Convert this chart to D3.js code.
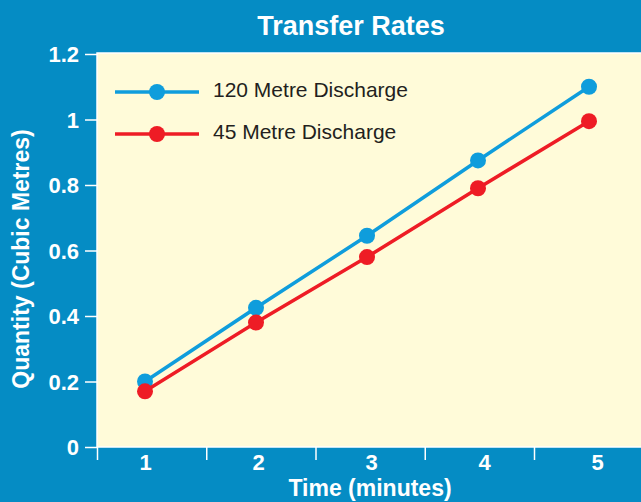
<!DOCTYPE html>
<html>
<head>
<meta charset="utf-8">
<script src="https://cdn.jsdelivr.net/npm/d3@7"></script>
<style>
  html, body { margin: 0; padding: 0; background: #058cc4; }
  svg { display: block; font-family: "Liberation Sans", Arial, sans-serif; }
</style>
</head>
<body>
<div id="chart"></div>
<script>
const minutes = [1, 2, 3, 4, 5];
const discharge120 = [0.2, 0.425, 0.645, 0.875, 1.1];
const discharge45 = [0.17, 0.38, 0.58, 0.79, 0.995];
const yTicks = [0, 0.2, 0.4, 0.6, 0.8, 1, 1.2];
const seriesNames = ["120 Metre Discharge", "45 Metre Discharge"];
const seriesColors = ["#0f9ddc", "#ee1c25"];

const width = 641, height = 502;
const plot = { left: 97, right: 641, top: 53, bottom: 447 };

const svg = d3.select("#chart").append("svg")
    .attr("width", width)
    .attr("height", height);

svg.append("rect")
    .attr("width", width).attr("height", height)
    .attr("fill", "#058cc4");

const x = d3.scaleLinear().domain([1, 5]).range([145, 589]);
const xTick = d3.scaleLinear().domain([0.5, 4.5]).range([97, 534]);
const y = d3.scaleLinear().domain([0, 1.2]).range([plot.bottom, plot.top + 1]);

// plot area
svg.append("rect")
    .attr("x", plot.left).attr("y", plot.top)
    .attr("width", plot.right - plot.left + 2)
    .attr("height", plot.bottom - plot.top)
    .attr("fill", "#fffbd9")
    .attr("stroke", "#ffffff")
    .attr("stroke-width", 1.5);

// y axis
const yAxis = svg.append("g")
    .attr("transform", `translate(${plot.left},0)`)
    .call(d3.axisLeft(y).tickValues(yTicks).tickSize(12).tickPadding(6)
        .tickFormat(d => d3.format("~g")(d)));
yAxis.select(".domain").remove();
yAxis.selectAll("line").attr("stroke", "#fff").attr("stroke-width", 1.5);
yAxis.selectAll("text")
    .attr("fill", "#fff")
    .attr("font-size", 22)
    .attr("font-weight", "bold")
    .attr("dy", "0.36em");

// x axis tick marks
const xTickAxis = svg.append("g")
    .attr("transform", `translate(0,${plot.bottom})`)
    .call(d3.axisBottom(xTick).tickValues([0.5, 1.5, 2.5, 3.5, 4.5]).tickSize(13).tickFormat(""));
xTickAxis.select(".domain").remove();
xTickAxis.selectAll("line").attr("stroke", "#fff").attr("stroke-width", 1.5);

// x axis labels
const xLabels = svg.append("g")
    .attr("transform", `translate(0,${plot.bottom})`)
    .call(d3.axisBottom(d3.scaleLinear().domain([1, 5]).range([145, 597]))
        .tickValues(minutes).tickSize(0).tickPadding(7).tickFormat(d3.format("d")));
xLabels.select(".domain").remove();
xLabels.selectAll("text")
    .attr("fill", "#fff")
    .attr("font-size", 22)
    .attr("font-weight", "bold");

// title
svg.append("text")
    .attr("x", 351).attr("y", 35)
    .attr("text-anchor", "middle")
    .attr("fill", "#fff")
    .attr("font-size", 27)
    .attr("font-weight", "bold")
    .text("Transfer Rates");

svg.append("text")
    .attr("x", 370).attr("y", 496)
    .attr("text-anchor", "middle")
    .attr("fill", "#fff")
    .attr("font-size", 23)
    .attr("font-weight", "bold")
    .text("Time (minutes)");

svg.append("text")
    .attr("transform", "translate(29,259) rotate(-90)")
    .attr("text-anchor", "middle")
    .attr("fill", "#fff")
    .attr("font-size", 23)
    .attr("font-weight", "bold")
    .text("Quantity (Cubic Metres)");

// series
const series = [discharge120, discharge45];
const line = d3.line().x((d, i) => x(minutes[i])).y(d => y(d));

series.forEach((vals, s) => {
    svg.append("path")
        .attr("d", line(vals))
        .attr("fill", "none")
        .attr("stroke", seriesColors[s])
        .attr("stroke-width", 3.5);
    svg.selectAll(null)
        .data(vals)
        .enter().append("circle")
        .attr("cx", (d, i) => x(minutes[i]))
        .attr("cy", d => y(d))
        .attr("r", 8)
        .attr("fill", seriesColors[s]);
});

// legend
const legend = svg.append("g");
seriesNames.forEach((name, s) => {
    const ly = 92 + s * 42;
    legend.append("line")
        .attr("x1", 115).attr("x2", 199)
        .attr("y1", ly).attr("y2", ly)
        .attr("stroke", seriesColors[s])
        .attr("stroke-width", 3.5);
    legend.append("circle")
        .attr("cx", 157).attr("cy", ly).attr("r", 8)
        .attr("fill", seriesColors[s]);
    legend.append("text")
        .attr("x", 213).attr("y", ly + 5)
        .attr("fill", "#231f20")
        .attr("font-size", 21)
        .text(name);
});
</script>
</body>
</html>
